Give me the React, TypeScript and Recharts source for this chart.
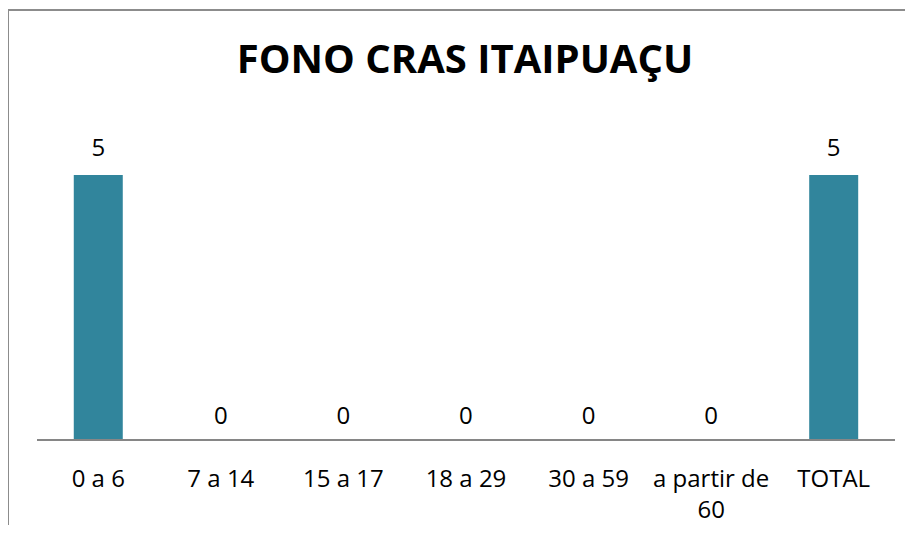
import React from 'react';
import { BarChart, Bar, XAxis, YAxis, LabelList } from 'recharts';

const TITLE = 'FONO CRAS ITAIPUAÇU';
const CATEGORIES = ['0 a 6', '7 a 14', '15 a 17', '18 a 29', '30 a 59', 'a partir de 60', 'TOTAL'];
const VALUES = [5, 0, 0, 0, 0, 0, 5];

const FONT = '"Open Sans", sans-serif';
const BAR_COLOR = '#31859C';

const chartData = CATEGORIES.map((name, i) => ({ name, value: VALUES[i], label: String(VALUES[i]) }));

// greedy wrap by character count, the axis is narrow
function wrapWords(s: string, maxChars: number) {
  const lines: string[] = [];
  let cur = '';
  for (const w of s.split(' ')) {
    const next = cur ? cur + ' ' + w : w;
    if (next.length > maxChars && cur) {
      lines.push(cur);
      cur = w;
    } else {
      cur = next;
    }
  }
  if (cur) lines.push(cur);
  return lines;
}

function CategoryTick(props: any) {
  const { x, y, payload } = props;
  const lines = wrapWords(String(payload.value), 11);
  return (
    <text x={x} y={y + 45} textAnchor="middle" fontSize={24} fontFamily={FONT} fill="#000">
      {lines.map((l, i) => (
        <tspan key={i} x={x} dy={i === 0 ? 0 : 31}>{l}</tspan>
      ))}
    </text>
  );
}

function ValueLabel(props: any) {
  const { x, y, width, height, value } = props;
  const gap = height > 1 ? 19 : 16;
  return (
    <text x={x + width / 2} y={y - gap} textAnchor="middle" fontSize={24} fontFamily={FONT} fill="#000">
      {value}
    </text>
  );
}

export default function App() {
  return (
    <div style={{ position: 'relative', width: 897, height: 517 }}>
      <style>{'html, body { overflow: hidden; }'}</style>
      <div
        style={{
          position: 'absolute', left: -1, top: 1, width: 1000, height: 600,
          borderTop: '2px solid #8c8c8c', borderLeft: '2px solid #8c8c8c',
        }}
      />
      <svg style={{ position: 'absolute', left: 0, top: 0 }} width={897} height={100}>
        <text x={457} y={65} textAnchor="middle" fontFamily={FONT} fontWeight="bold" fontSize={40} fill="#000">
          {TITLE}
        </text>
      </svg>
      <div style={{ position: 'absolute', left: 0, top: 0 }}>
        <BarChart
          width={905}
          height={525}
          data={chartData}
          margin={{ top: 167, right: 18, left: 29, bottom: 0 }}
          barCategoryGap="30%"
        >
          <XAxis
            dataKey="name"
            height={93}
            interval={0}
            tickLine={false}
            tickSize={0}
            axisLine={{ stroke: '#868686', strokeWidth: 2 }}
            tick={<CategoryTick />}
          />
          <YAxis hide domain={[0, 5]} />
          <Bar dataKey="value" fill={BAR_COLOR} minPointSize={0.01} isAnimationActive={false}>
            <LabelList dataKey="label" content={<ValueLabel />} />
          </Bar>
        </BarChart>
      </div>
    </div>
  );
}
